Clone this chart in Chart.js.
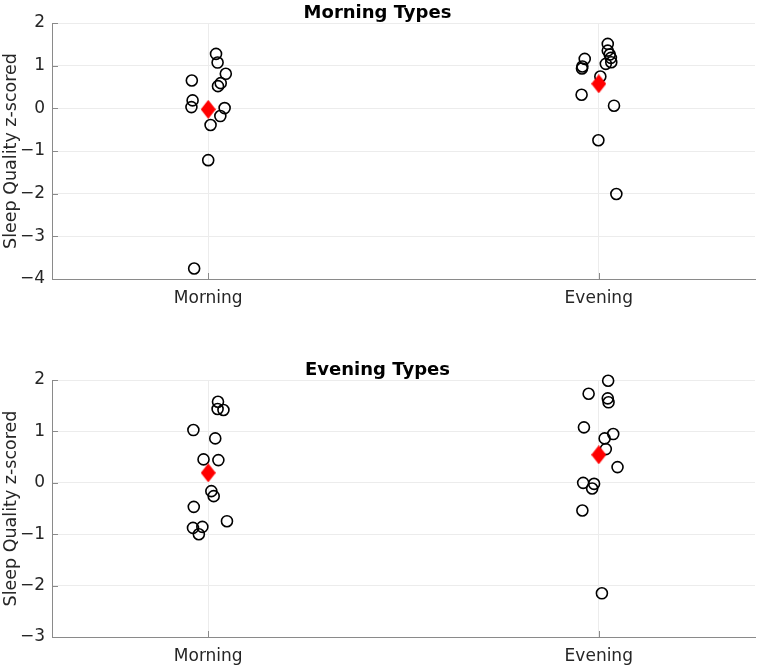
<!DOCTYPE html>
<html>
<head>
<meta charset="utf-8">
<script src="https://cdn.jsdelivr.net/npm/chart.js@4/dist/chart.umd.min.js"></script>
<style>
  html, body { margin: 0; padding: 0; background: #fff; }
  #wrap { position: relative; width: 760px; height: 669px; }
  .box { position: absolute; left: 0; width: 760px; }
</style>
</head>
<body>
<div id="wrap">
  <div class="box" style="top:0;height:334px"><canvas id="c1"></canvas></div>
  <div class="box" style="top:334px;height:335px"><canvas id="c2"></canvas></div>
</div>
<script>
// ---------- data ----------
const categories = ['Morning', 'Evening'];
const titles = ['Morning Types', 'Evening Types'];
const yLabel = 'Sleep Quality z-scored';

// Top panel: Morning Types
const mtMorningX = [1.020, 1.024, 1.045, 0.958, 1.032, 1.025, 0.960, 0.957, 1.042, 1.031, 1.006, 1.000, 0.964];
const mtMorningY = [1.276, 1.073, 0.809, 0.653, 0.590, 0.520, 0.186, 0.029, 0.006, -0.181, -0.391, -1.215, -3.753];
const mtEveningX = [2.023, 2.023, 2.028, 2.031, 1.964, 2.032, 2.018, 1.958, 1.957, 2.004, 1.956, 2.039, 1.999, 2.045];
const mtEveningY = [1.510, 1.353, 1.260, 1.183, 1.159, 1.080, 1.043, 0.980, 0.933, 0.746, 0.319, 0.062, -0.748, -2.009];
const mtMeans = [-0.024, 0.576];

// Bottom panel: Evening Types
const etMorningX = [1.025, 1.024, 1.039, 0.962, 1.018, 0.988, 1.026, 1.008, 1.014, 0.963, 1.048, 0.961, 0.985, 0.976];
const etMorningY = [1.577, 1.435, 1.416, 1.026, 0.864, 0.455, 0.442, -0.162, -0.260, -0.468, -0.747, -0.877, -0.858, -1.000];
const etEveningX = [2.024, 1.974, 2.023, 2.025, 1.962, 2.037, 2.015, 2.018, 2.048, 1.960, 1.988, 1.983, 1.958, 2.008];
const etEveningY = [1.986, 1.733, 1.643, 1.566, 1.079, 0.948, 0.864, 0.656, 0.305, -0.001, -0.020, -0.110, -0.538, -2.150];
const etMeans = [0.194, 0.545];

const yTicksTop = [-4, -3, -2, -1, 0, 1, 2];
const yTicksBottom = [-3, -2, -1, 0, 1, 2];
const xTicks = [1, 2];

// ---------- helpers ----------
function pts(xs, ys) { return xs.map((x, i) => ({ x: x, y: ys[i] })); }

// elongated red diamond marker
const diamond = document.createElement('canvas');
diamond.width = 15; diamond.height = 19;
(function () {
  const g = diamond.getContext('2d');
  g.fillStyle = '#ff0000';
  g.beginPath();
  g.moveTo(7.5, 0); g.lineTo(15, 9.5); g.lineTo(7.5, 19); g.lineTo(0, 9.5);
  g.closePath(); g.fill();
})();

const FONT = "'DejaVu Sans', sans-serif";
const AXIS = '#8a8a8a';
const GRID = '#ececec';
const TXT = '#262626';

// MATLAB-like inward tick marks
const innerTicks = {
  id: 'innerTicks',
  afterDatasetsDraw(chart) {
    const ctx = chart.ctx, a = chart.chartArea;
    const xs = chart.scales.x, ys = chart.scales.y;
    ctx.save();
    ctx.strokeStyle = AXIS; ctx.lineWidth = 1;
    ys.ticks.forEach(t => {
      const y = Math.round(ys.getPixelForValue(t.value)) + 0.5;
      ctx.beginPath(); ctx.moveTo(a.left, y); ctx.lineTo(a.left + 6, y); ctx.stroke();
    });
    xs.ticks.forEach(t => {
      const x = Math.round(xs.getPixelForValue(t.value)) + 0.5;
      ctx.beginPath(); ctx.moveTo(x, a.bottom); ctx.lineTo(x, a.bottom - 6); ctx.stroke();
    });
    ctx.restore();
  }
};

function makeChart(id, title, titlePadTop, xHeight, yMin, yMax, yTicks, mX, mY, eX, eY, means) {
  return new Chart(document.getElementById(id), {
    type: 'scatter',
    data: {
      datasets: [
        { data: pts(mX, mY), pointStyle: 'circle', pointRadius: 5.5, borderColor: '#000', backgroundColor: 'rgba(0,0,0,0)', borderWidth: 1.6, order: 2, clip: false },
        { data: pts(eX, eY), pointStyle: 'circle', pointRadius: 5.5, borderColor: '#000', backgroundColor: 'rgba(0,0,0,0)', borderWidth: 1.6, order: 2, clip: false },
        { data: pts(xTicks, means), pointStyle: diamond, pointRadius: 9, order: 1, clip: false }
      ]
    },
    options: {
      responsive: true,
      maintainAspectRatio: false,
      animation: false,
      events: [],
      layout: { autoPadding: false, padding: { left: 0, right: 5, top: 0, bottom: 0 } },
      plugins: {
        legend: { display: false },
        tooltip: { enabled: false },
        title: {
          display: true, text: title, color: '#000',
          font: { family: FONT, size: 18, weight: 'bold', lineHeight: '16px' },
          padding: { top: titlePadTop, bottom: 2 }
        }
      },
      scales: {
        x: {
          type: 'linear', min: 0.6, max: 2.4,
          afterBuildTicks: s => { s.ticks = xTicks.map(v => ({ value: v })); },
          afterFit: s => { s.height = xHeight; s.paddingLeft = 0; s.paddingRight = 0; },
          grid: { color: GRID, drawTicks: false },
          border: { color: AXIS, width: 1 },
          ticks: {
            color: TXT, padding: 9, maxRotation: 0,
            font: { family: FONT, size: 17 },
            callback: v => categories[Math.round(v) - 1]
          }
        },
        y: {
          min: yMin, max: yMax,
          afterBuildTicks: s => { s.ticks = yTicks.map(v => ({ value: v })); },
          afterFit: s => { s.width = 52; },
          grid: { color: GRID, drawTicks: false },
          border: { color: AXIS, width: 1 },
          ticks: {
            color: TXT, padding: 7,
            font: { family: FONT, size: 17 },
            callback: v => String(v).replace('-', '\u2212')
          },
          title: {
            display: true, text: yLabel, color: TXT,
            font: { family: FONT, size: 17.5 },
            padding: { top: 1, bottom: 0 }
          }
        }
      }
    },
    plugins: [innerTicks]
  });
}

makeChart('c1', titles[0], 5, 55, -4, 2, yTicksTop, mtMorningX, mtMorningY, mtEveningX, mtEveningY, mtMeans);
makeChart('c2', titles[1], 28, 32, -3, 2, yTicksBottom, etMorningX, etMorningY, etEveningX, etEveningY, etMeans);
</script>
</body>
</html>
